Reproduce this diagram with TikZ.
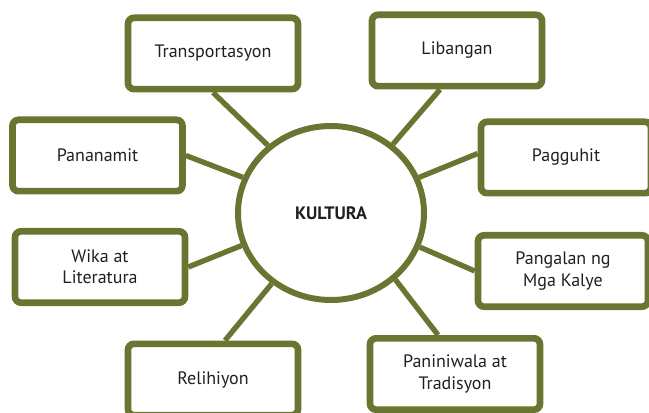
\documentclass[tikz,border=0pt]{standalone}
\usepackage{fontspec}
\setmainfont{PT Sans}
\usepackage{xcolor}
\usetikzlibrary{shapes.geometric}
\definecolor{olive-line}{RGB}{108,116,49}
\definecolor{label-text}{RGB}{35,31,32}
\tikzset{
    topic-box/.style = {draw=olive-line, fill=white, line width=5pt, rectangle, rounded corners=4.5pt, minimum width=127.5pt, minimum height=53.5pt, align=center, text=label-text, font=\fontsize{13.5}{16}\selectfont},
    center-ellipse/.style = {draw=olive-line, fill=white, line width=4.5pt, ellipse, inner sep=0pt, minimum width=139.5pt, minimum height=130.5pt, text=label-text, font=\fontsize{13.5}{16}\selectfont\bfseries},
    spoke/.style = {draw=olive-line, line width=4pt},
}

\begin{document}
\begin{tikzpicture}[x=0.75pt, y=-0.75pt]
\useasboundingbox (0,0) rectangle (649,413);
\node [center-ellipse] (kultura) at (331,213) {KULTURA};
\node [topic-box] (transport) at (213,53.5) {Transportasyon};
\node [topic-box] (libangan) at (457,50.5) {Libangan};
\node [topic-box] (pananamit) at (97.5,155.5) {Pananamit};
\node [topic-box] (pagguhit) at (566,157.5) {Pagguhit};
\node [topic-box] (wika) at (100,267) {Wika at\\Literatura};
\node [topic-box] (kalye) at (563,271) {Pangalan ng\\Mga Kalye};
\node [topic-box] (relihiyon) at (213,379.5) {Relihiyon};
\node [topic-box] (tradisyon) at (455,374) {Paniniwala at\\Tradisyon};

% spokes from each box to the circle
\draw [spoke] (transport.south) -- (kultura.133);
\draw [spoke] ([xshift=-12.75pt]libangan.south) -- (kultura.48);
\draw [spoke] (pananamit.east) -- (kultura.158);
\draw [spoke] ([yshift=3pt]pagguhit.west) -- (kultura.22);
\draw [spoke] (wika.east) -- (kultura.200);
\draw [spoke] (kalye.west) -- (kultura.-21);
\draw [spoke] ([xshift=9pt]relihiyon.north) -- (kultura.230);
\draw [spoke] ([xshift=-12.75pt]tradisyon.north) -- (kultura.-46);
\end{tikzpicture}
\end{document}
